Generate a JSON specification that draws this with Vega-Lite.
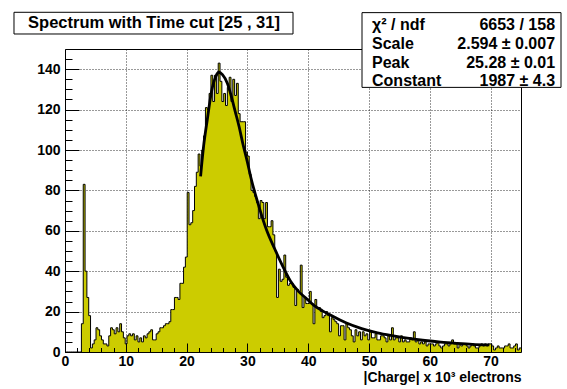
{
  "$schema": "https://vega.github.io/schema/vega-lite/v6.json",
  "width": 456,
  "height": 303,
  "autosize": {"type": "none"},
  "padding": {"left": 65, "top": 49, "right": 46, "bottom": 37},
  "background": "white",
  "config": {
    "view": {"stroke": "#000", "strokeWidth": 1},
    "axis": {
      "labelFont": "Liberation Sans", "labelFontWeight": "bold", "labelFontSize": 14, "labelColor": "#000",
      "titleFont": "Liberation Sans", "titleFontWeight": "bold", "titleFontSize": 14, "titleColor": "#000",
      "tickColor": "#000", "tickWidth": 1, "domain": false,
      "gridColor": "#000", "gridDash": [1, 2], "gridOpacity": 0.8,
      "labelFlush": false, "labelOverlap": false
    }
  },
  "datasets": {
    "hist": [
      {"lo":0,"hi":0.3,"n":0},{"lo":0.3,"hi":0.6,"n":0},{"lo":0.6,"hi":0.9,"n":0},{"lo":0.9,"hi":1.2,"n":0},{"lo":1.2,"hi":1.5,"n":0},{"lo":1.5,"hi":1.8,"n":0},{"lo":1.8,"hi":2.1,"n":0},{"lo":2.1,"hi":2.4,"n":0},{"lo":2.4,"hi":2.7,"n":0},{"lo":2.7,"hi":3,"n":14},
      {"lo":3,"hi":3.3,"n":83},{"lo":3.3,"hi":3.6,"n":40},{"lo":3.6,"hi":3.9,"n":27},{"lo":3.9,"hi":4.2,"n":18},{"lo":4.2,"hi":4.5,"n":2},{"lo":4.5,"hi":4.8,"n":4},{"lo":4.8,"hi":5.1,"n":6},{"lo":5.1,"hi":5.4,"n":12},{"lo":5.4,"hi":5.7,"n":11},{"lo":5.7,"hi":6,"n":8},
      {"lo":6,"hi":6.3,"n":6},{"lo":6.3,"hi":6.6,"n":4},{"lo":6.6,"hi":6.9,"n":4},{"lo":6.9,"hi":7.2,"n":3},{"lo":7.2,"hi":7.5,"n":8},{"lo":7.5,"hi":7.8,"n":12},{"lo":7.8,"hi":8.1,"n":11},{"lo":8.1,"hi":8.4,"n":9},{"lo":8.4,"hi":8.7,"n":12},{"lo":8.7,"hi":9,"n":10},
      {"lo":9,"hi":9.3,"n":14},{"lo":9.3,"hi":9.6,"n":10},{"lo":9.6,"hi":9.9,"n":7},{"lo":9.9,"hi":10.2,"n":4},{"lo":10.2,"hi":10.5,"n":8},{"lo":10.5,"hi":10.8,"n":9},{"lo":10.8,"hi":11.1,"n":8},{"lo":11.1,"hi":11.4,"n":9},{"lo":11.4,"hi":11.7,"n":6},{"lo":11.7,"hi":12,"n":8},
      {"lo":12,"hi":12.3,"n":5},{"lo":12.3,"hi":12.6,"n":7},{"lo":12.6,"hi":12.9,"n":5},{"lo":12.9,"hi":13.2,"n":8},{"lo":13.2,"hi":13.5,"n":7},{"lo":13.5,"hi":13.8,"n":9},{"lo":13.8,"hi":14.1,"n":10},{"lo":14.1,"hi":14.4,"n":11},{"lo":14.4,"hi":14.7,"n":6},{"lo":14.7,"hi":15,"n":6},
      {"lo":15,"hi":15.3,"n":9},{"lo":15.3,"hi":15.6,"n":10},{"lo":15.6,"hi":15.9,"n":12},{"lo":15.9,"hi":16.2,"n":12},{"lo":16.2,"hi":16.5,"n":13},{"lo":16.5,"hi":16.8,"n":14},{"lo":16.8,"hi":17.1,"n":14},{"lo":17.1,"hi":17.4,"n":15},{"lo":17.4,"hi":17.7,"n":21},{"lo":17.7,"hi":18,"n":21},
      {"lo":18,"hi":18.3,"n":27},{"lo":18.3,"hi":18.6,"n":27},{"lo":18.6,"hi":18.9,"n":26},{"lo":18.9,"hi":19.2,"n":34},{"lo":19.2,"hi":19.5,"n":34},{"lo":19.5,"hi":19.8,"n":42},{"lo":19.8,"hi":20.1,"n":47},{"lo":20.1,"hi":20.4,"n":79},{"lo":20.4,"hi":20.7,"n":63},{"lo":20.7,"hi":21,"n":64},
      {"lo":21,"hi":21.3,"n":70},{"lo":21.3,"hi":21.6,"n":82},{"lo":21.6,"hi":21.9,"n":89},{"lo":21.9,"hi":22.2,"n":98},{"lo":22.2,"hi":22.5,"n":92},{"lo":22.5,"hi":22.8,"n":100},{"lo":22.8,"hi":23.1,"n":107},{"lo":23.1,"hi":23.4,"n":121},{"lo":23.4,"hi":23.7,"n":120},{"lo":23.7,"hi":24,"n":128},
      {"lo":24,"hi":24.3,"n":137},{"lo":24.3,"hi":24.6,"n":124},{"lo":24.6,"hi":24.9,"n":137},{"lo":24.9,"hi":25.2,"n":128},{"lo":25.2,"hi":25.5,"n":143},{"lo":25.5,"hi":25.8,"n":134},{"lo":25.8,"hi":26.1,"n":124},{"lo":26.1,"hi":26.4,"n":128},{"lo":26.4,"hi":26.7,"n":122},{"lo":26.7,"hi":27,"n":131},
      {"lo":27,"hi":27.3,"n":136},{"lo":27.3,"hi":27.6,"n":124},{"lo":27.6,"hi":27.9,"n":135},{"lo":27.9,"hi":28.2,"n":127},{"lo":28.2,"hi":28.5,"n":133},{"lo":28.5,"hi":28.8,"n":118},{"lo":28.8,"hi":29.1,"n":114},{"lo":29.1,"hi":29.4,"n":114},{"lo":29.4,"hi":29.7,"n":114},{"lo":29.7,"hi":30,"n":99},
      {"lo":30,"hi":30.3,"n":97},{"lo":30.3,"hi":30.6,"n":88},{"lo":30.6,"hi":30.9,"n":80},{"lo":30.9,"hi":31.2,"n":79},{"lo":31.2,"hi":31.5,"n":77},{"lo":31.5,"hi":31.8,"n":74},{"lo":31.8,"hi":32.1,"n":66},{"lo":32.1,"hi":32.4,"n":75},{"lo":32.4,"hi":32.7,"n":74},{"lo":32.7,"hi":33,"n":66},
      {"lo":33,"hi":33.3,"n":74},{"lo":33.3,"hi":33.6,"n":62},{"lo":33.6,"hi":33.9,"n":62},{"lo":33.9,"hi":34.2,"n":65},{"lo":34.2,"hi":34.5,"n":58},{"lo":34.5,"hi":34.8,"n":50},{"lo":34.8,"hi":35.1,"n":27},{"lo":35.1,"hi":35.4,"n":41},{"lo":35.4,"hi":35.7,"n":35},{"lo":35.7,"hi":36,"n":36},
      {"lo":36,"hi":36.3,"n":48},{"lo":36.3,"hi":36.6,"n":37},{"lo":36.6,"hi":36.9,"n":33},{"lo":36.9,"hi":37.2,"n":34},{"lo":37.2,"hi":37.5,"n":34},{"lo":37.5,"hi":37.8,"n":32},{"lo":37.8,"hi":38.1,"n":23},{"lo":38.1,"hi":38.4,"n":31},{"lo":38.4,"hi":38.7,"n":30},{"lo":38.7,"hi":39,"n":43},
      {"lo":39,"hi":39.3,"n":22},{"lo":39.3,"hi":39.6,"n":27},{"lo":39.6,"hi":39.9,"n":24},{"lo":39.9,"hi":40.2,"n":24},{"lo":40.2,"hi":40.5,"n":30},{"lo":40.5,"hi":40.8,"n":24},{"lo":40.8,"hi":41.1,"n":14},{"lo":41.1,"hi":41.4,"n":26},{"lo":41.4,"hi":41.7,"n":22},{"lo":41.7,"hi":42,"n":22},
      {"lo":42,"hi":42.3,"n":20},{"lo":42.3,"hi":42.6,"n":17},{"lo":42.6,"hi":42.9,"n":18},{"lo":42.9,"hi":43.2,"n":20},{"lo":43.2,"hi":43.5,"n":18},{"lo":43.5,"hi":43.8,"n":10},{"lo":43.8,"hi":44.1,"n":17},{"lo":44.1,"hi":44.4,"n":16},{"lo":44.4,"hi":44.7,"n":15},{"lo":44.7,"hi":45,"n":14},
      {"lo":45,"hi":45.3,"n":8},{"lo":45.3,"hi":45.6,"n":13},{"lo":45.6,"hi":45.9,"n":13},{"lo":45.9,"hi":46.2,"n":6},{"lo":46.2,"hi":46.5,"n":14},{"lo":46.5,"hi":46.8,"n":12},{"lo":46.8,"hi":47.1,"n":11},{"lo":47.1,"hi":47.4,"n":8},{"lo":47.4,"hi":47.7,"n":5},{"lo":47.7,"hi":48,"n":11},
      {"lo":48,"hi":48.3,"n":8},{"lo":48.3,"hi":48.6,"n":10},{"lo":48.6,"hi":48.9,"n":6},{"lo":48.9,"hi":49.2,"n":10},{"lo":49.2,"hi":49.5,"n":8},{"lo":49.5,"hi":49.8,"n":9},{"lo":49.8,"hi":50.1,"n":6},{"lo":50.1,"hi":50.4,"n":10},{"lo":50.4,"hi":50.7,"n":7},{"lo":50.7,"hi":51,"n":7},
      {"lo":51,"hi":51.3,"n":9},{"lo":51.3,"hi":51.6,"n":6},{"lo":51.6,"hi":51.9,"n":6},{"lo":51.9,"hi":52.2,"n":8},{"lo":52.2,"hi":52.5,"n":8},{"lo":52.5,"hi":52.8,"n":7},{"lo":52.8,"hi":53.1,"n":5},{"lo":53.1,"hi":53.4,"n":8},{"lo":53.4,"hi":53.7,"n":6},{"lo":53.7,"hi":54,"n":12},
      {"lo":54,"hi":54.3,"n":6},{"lo":54.3,"hi":54.6,"n":7},{"lo":54.6,"hi":54.9,"n":7},{"lo":54.9,"hi":55.2,"n":5},{"lo":55.2,"hi":55.5,"n":8},{"lo":55.5,"hi":55.8,"n":5},{"lo":55.8,"hi":56.1,"n":6},{"lo":56.1,"hi":56.4,"n":5},{"lo":56.4,"hi":56.7,"n":5},{"lo":56.7,"hi":57,"n":7},
      {"lo":57,"hi":57.3,"n":6},{"lo":57.3,"hi":57.6,"n":10},{"lo":57.6,"hi":57.9,"n":5},{"lo":57.9,"hi":58.2,"n":6},{"lo":58.2,"hi":58.5,"n":4},{"lo":58.5,"hi":58.8,"n":5},{"lo":58.8,"hi":59.1,"n":4},{"lo":59.1,"hi":59.4,"n":5},{"lo":59.4,"hi":59.7,"n":3},{"lo":59.7,"hi":60,"n":4},
      {"lo":60,"hi":60.3,"n":4},{"lo":60.3,"hi":60.6,"n":4},{"lo":60.6,"hi":60.9,"n":3},{"lo":60.9,"hi":61.2,"n":4},{"lo":61.2,"hi":61.5,"n":5},{"lo":61.5,"hi":61.8,"n":3},{"lo":61.8,"hi":62.1,"n":2},{"lo":62.1,"hi":62.4,"n":3},{"lo":62.4,"hi":62.7,"n":4},{"lo":62.7,"hi":63,"n":4},
      {"lo":63,"hi":63.3,"n":3},{"lo":63.3,"hi":63.6,"n":4},{"lo":63.6,"hi":63.9,"n":6},{"lo":63.9,"hi":64.2,"n":4},{"lo":64.2,"hi":64.5,"n":4},{"lo":64.5,"hi":64.8,"n":2},{"lo":64.8,"hi":65.1,"n":4},{"lo":65.1,"hi":65.4,"n":3},{"lo":65.4,"hi":65.7,"n":4},{"lo":65.7,"hi":66,"n":4},
      {"lo":66,"hi":66.3,"n":3},{"lo":66.3,"hi":66.6,"n":2},{"lo":66.6,"hi":66.9,"n":3},{"lo":66.9,"hi":67.2,"n":4},{"lo":67.2,"hi":67.5,"n":3},{"lo":67.5,"hi":67.8,"n":2},{"lo":67.8,"hi":68.1,"n":2},{"lo":68.1,"hi":68.4,"n":3},{"lo":68.4,"hi":68.7,"n":4},{"lo":68.7,"hi":69,"n":3},
      {"lo":69,"hi":69.3,"n":4},{"lo":69.3,"hi":69.6,"n":3},{"lo":69.6,"hi":69.9,"n":4},{"lo":69.9,"hi":70.2,"n":4},{"lo":70.2,"hi":70.5,"n":3},{"lo":70.5,"hi":70.8,"n":1},{"lo":70.8,"hi":71.1,"n":2},{"lo":71.1,"hi":71.4,"n":3},{"lo":71.4,"hi":71.7,"n":2},{"lo":71.7,"hi":72,"n":2},
      {"lo":72,"hi":72.3,"n":2},{"lo":72.3,"hi":72.6,"n":3},{"lo":72.6,"hi":72.9,"n":3},{"lo":72.9,"hi":73.2,"n":4},{"lo":73.2,"hi":73.5,"n":2},{"lo":73.5,"hi":73.8,"n":2},{"lo":73.8,"hi":74.1,"n":3},{"lo":74.1,"hi":74.4,"n":4},{"lo":74.4,"hi":74.7,"n":1},{"lo":74.7,"hi":75,"n":2}
    ],
    "fit": [
      {"q":22.3,"f":87},{"q":22.8,"f":102},{"q":23.4,"f":115},{"q":24.1,"f":129},{"q":24.8,"f":136.4},{"q":25.3,"f":138.5},{"q":25.9,"f":137.3},{"q":26.7,"f":133},{"q":27.4,"f":126},{"q":28.0,"f":119},{"q":28.6,"f":112},{"q":29.3,"f":102.5},{"q":30.0,"f":94},{"q":30.6,"f":86},{"q":31.9,"f":72},{"q":33.2,"f":60},{"q":34.5,"f":51},{"q":35.8,"f":42.5},{"q":37.1,"f":35},{"q":38.4,"f":30},{"q":39.7,"f":26.5},{"q":41.0,"f":23},{"q":42.3,"f":20.5},{"q":43.6,"f":18.4},{"q":46.2,"f":14.5},{"q":48.8,"f":11.6},{"q":51.4,"f":9.5},{"q":54.0,"f":8.0},{"q":56.6,"f":6.7},{"q":59.2,"f":5.7},{"q":61.8,"f":4.9},{"q":64.4,"f":4.3},{"q":67.0,"f":3.8},{"q":69.8,"f":3.5}
    ]
  },
  "layer": [
    {
      "data": {"name": "hist"},
      "transform": [{"fold": ["lo", "hi"], "as": ["edge", "x"]}],
      "mark": {"type": "area", "color": "#cccc00"},
      "encoding": {
        "x": {"field": "x", "type": "quantitative", "scale": {"domain": [0, 75], "nice": false, "zero": false},
          "axis": {"orient": "bottom", "values": [0, 10, 20, 30, 40, 50, 60, 70], "grid": true, "ticks": false, "labelPadding": 2,
            "title": "|Charge| x 10³ electrons", "titleAnchor": "end", "titlePadding": 2, "zindex": 0}},
        "y": {"field": "n", "type": "quantitative", "stack": null, "scale": {"domain": [0, 150], "nice": false},
          "axis": {"orient": "left", "values": [0, 20, 40, 60, 80, 100, 120, 140], "grid": true, "ticks": false, "labelPadding": 5, "title": null, "zindex": 0}},
        "order": [{"field": "x", "type": "quantitative"}, {"field": "edge", "type": "nominal"}]
      }
    },
    {
      "data": {"name": "hist"},
      "transform": [{"fold": ["lo", "hi"], "as": ["edge", "x"]}],
      "mark": {"type": "line", "color": "#000", "strokeWidth": 1},
      "encoding": {
        "x": {"field": "x", "type": "quantitative", "scale": {"domain": [0, 75], "nice": false, "zero": false},
          "axis": {"orient": "bottom", "values": [0, 10, 20, 30, 40, 50, 60, 70], "grid": false, "labels": false, "ticks": true, "tickSize": -9, "title": null, "zindex": 1}},
        "y": {"field": "n", "type": "quantitative", "scale": {"domain": [0, 150], "nice": false},
          "axis": {"orient": "left", "values": [0, 20, 40, 60, 80, 100, 120, 140], "grid": false, "labels": false, "ticks": true, "tickSize": -14, "title": null, "zindex": 1}},
        "order": [{"field": "x", "type": "quantitative"}, {"field": "edge", "type": "nominal"}]
      }
    },
    {
      "data": {"name": "fit"},
      "mark": {"type": "line", "color": "#000", "strokeWidth": 2.8, "interpolate": "monotone"},
      "encoding": {
        "x": {"field": "q", "type": "quantitative", "scale": {"domain": [0, 75], "nice": false, "zero": false},
          "axis": {"orient": "bottom", "values": [2, 4, 6, 8, 12, 14, 16, 18, 22, 24, 26, 28, 32, 34, 36, 38, 42, 44, 46, 48, 52, 54, 56, 58, 62, 64, 66, 68, 72, 74], "grid": false, "labels": false, "ticks": true, "tickSize": -4.5, "title": null, "zindex": 1}},
        "y": {"field": "f", "type": "quantitative", "scale": {"domain": [0, 150], "nice": false},
          "axis": {"orient": "left", "values": [5, 10, 15, 25, 30, 35, 45, 50, 55, 65, 70, 75, 85, 90, 95, 105, 110, 115, 125, 130, 135, 145], "grid": false, "labels": false, "ticks": true, "tickSize": -7, "title": null, "zindex": 1}}
      }
    },
    {
      "data": {"values": [{}]},
      "mark": {"type": "rect", "fill": "white", "stroke": "#000", "strokeWidth": 1},
      "encoding": {
        "x": {"datum": 48.85, "type": "quantitative", "axis": null},
        "x2": {"datum": 81.58},
        "y": {"datum": 168.0, "type": "quantitative", "axis": null},
        "y2": {"datum": 131.0}
      }
    },
    {
      "data": {"values": [{}]},
      "mark": {"type": "text", "text": ["χ² / ndf", "Scale", "Peak", "Constant"], "align": "left", "baseline": "middle",
        "font": "Liberation Sans", "fontWeight": "bold", "fontSize": 16, "lineHeight": 18.8, "color": "#000"},
      "encoding": {
        "x": {"datum": 50.5, "type": "quantitative", "axis": null},
        "y": {"datum": 161.85, "type": "quantitative", "axis": null}
      }
    },
    {
      "data": {"values": [{}]},
      "mark": {"type": "text", "text": ["6653 / 158", "2.594 ± 0.007", "25.28 ± 0.01", "1987 ± 4.3"], "align": "right", "baseline": "middle",
        "font": "Liberation Sans", "fontWeight": "bold", "fontSize": 16, "lineHeight": 18.8, "color": "#000"},
      "encoding": {
        "x": {"datum": 80.6, "type": "quantitative", "axis": null},
        "y": {"datum": 161.85, "type": "quantitative", "axis": null}
      }
    },
    {
      "data": {"values": [{}]},
      "mark": {"type": "rect", "fill": "white", "stroke": "#000", "strokeWidth": 1},
      "encoding": {
        "x": {"datum": -8.39, "type": "quantitative", "axis": null},
        "x2": {"datum": 37.5},
        "y": {"datum": 168.17, "type": "quantitative", "axis": null},
        "y2": {"datum": 157.43}
      }
    },
    {
      "data": {"values": [{}]},
      "mark": {"type": "text", "text": "Spectrum with Time cut [25 , 31]", "align": "center", "baseline": "middle",
        "font": "Liberation Sans", "fontWeight": "bold", "fontSize": 16.5, "color": "#000"},
      "encoding": {
        "x": {"datum": 14.64, "type": "quantitative", "axis": null},
        "y": {"datum": 162.7, "type": "quantitative", "axis": null}
      }
    }
  ],
  "resolve": {"axis": {"x": "independent", "y": "independent"}}
}
